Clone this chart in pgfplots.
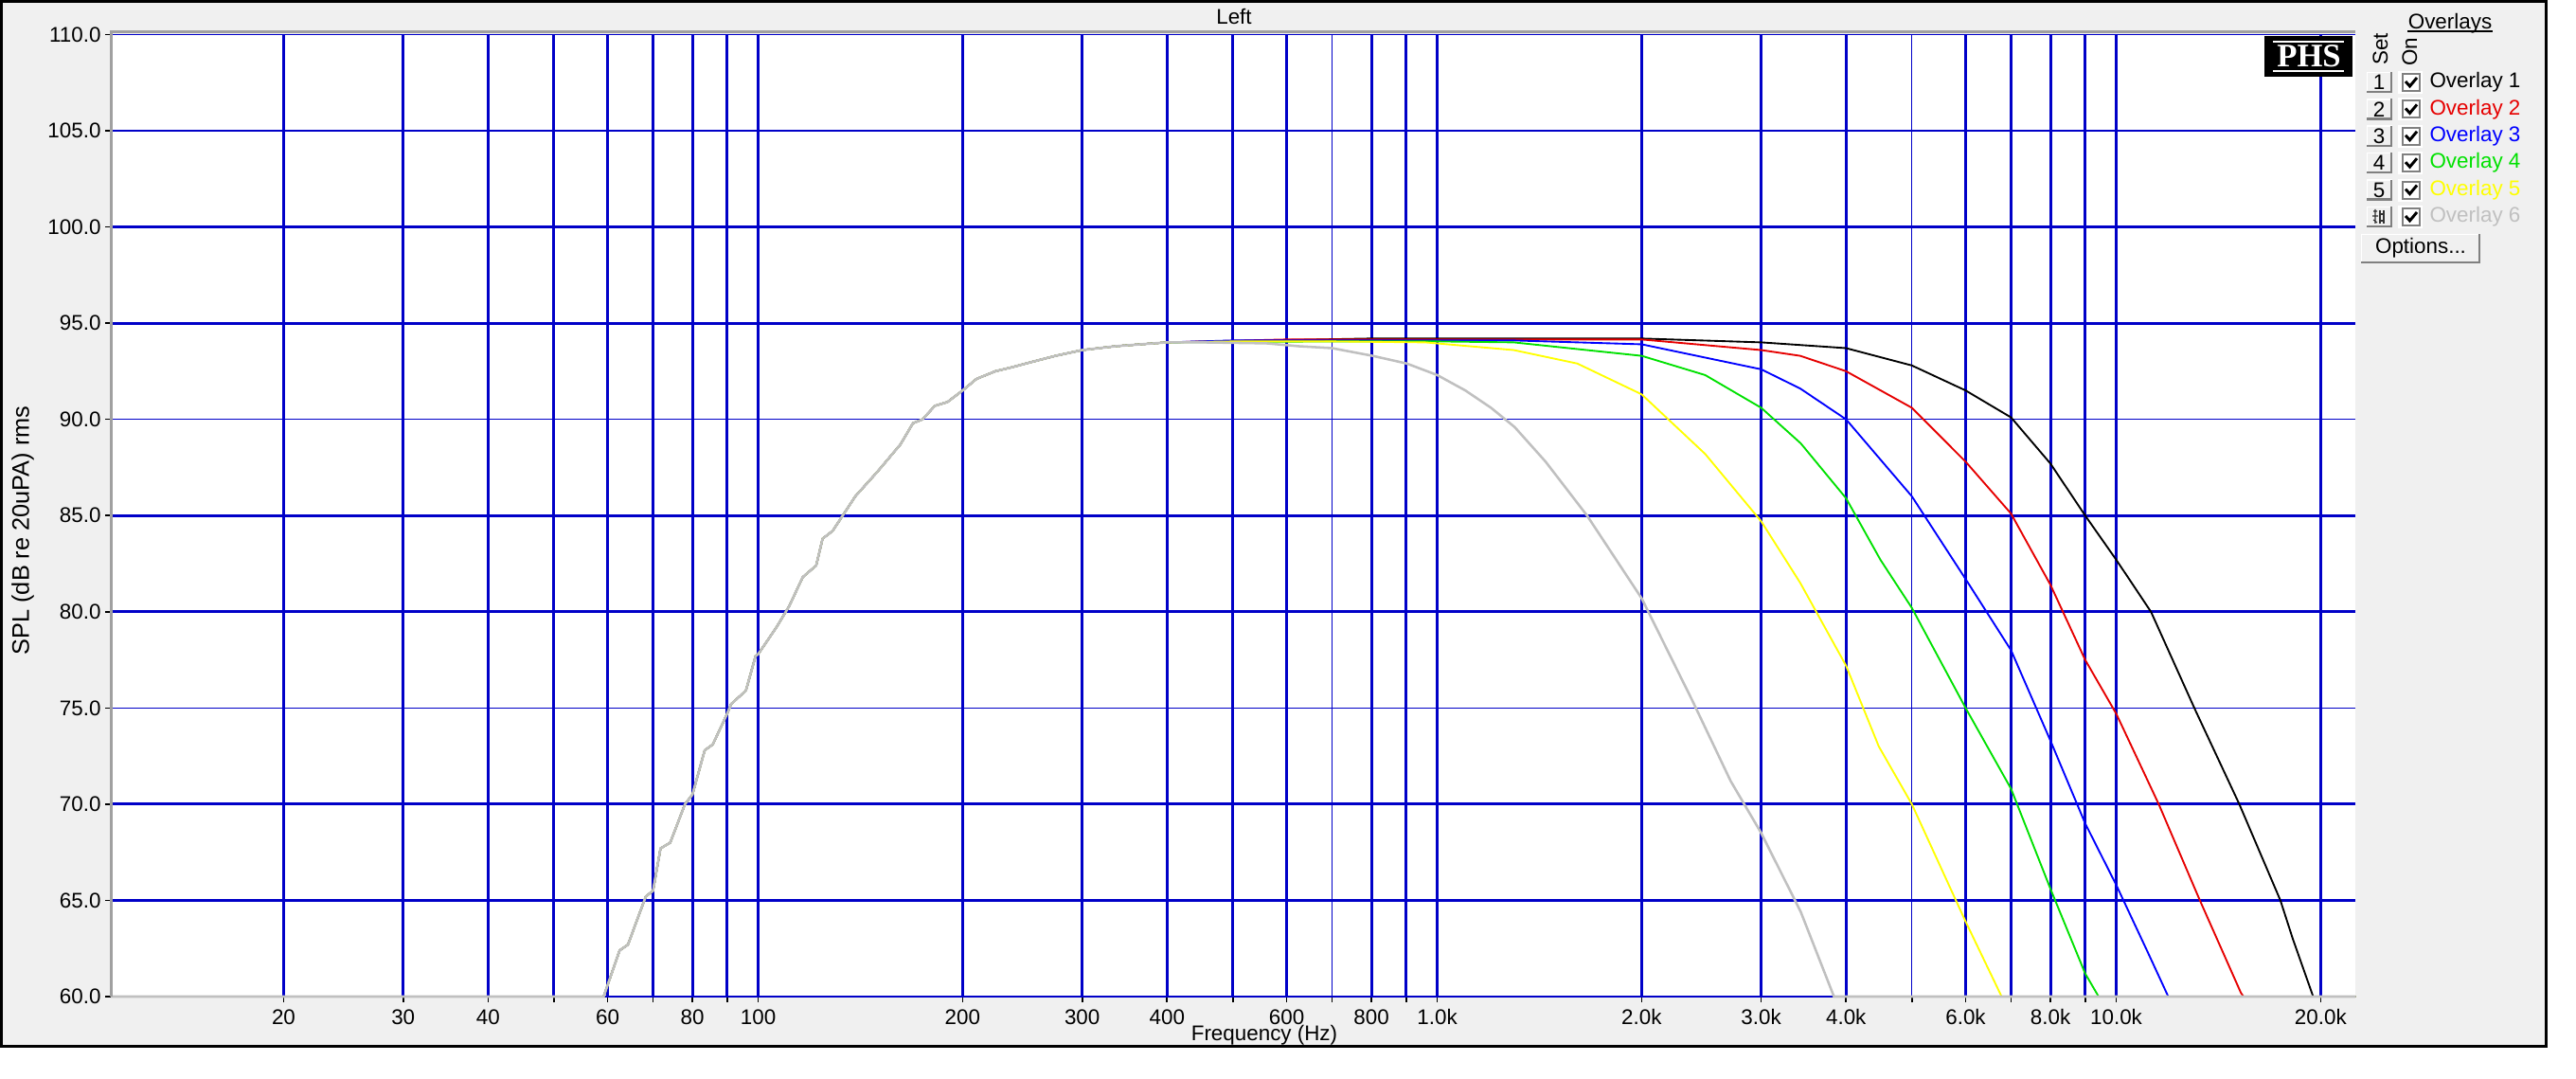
\documentclass[border=0pt]{standalone}
\usepackage{fontspec}
\setmainfont{Liberation Sans}
\newfontfamily\logofont{Liberation Serif}
\usepackage{pgfplots}
\pgfplotsset{compat=1.18}
\definecolor{gridblue}{RGB}{0,0,200}
\definecolor{winbg}{RGB}{240,240,240}
\definecolor{bordergray}{RGB}{160,160,160}
\definecolor{btndark}{RGB}{128,128,128}
\definecolor{ovgray}{RGB}{192,192,192}
\definecolor{ovgreen}{RGB}{0,225,0}
\definecolor{ovyellow}{RGB}{255,255,0}
\definecolor{ovred}{RGB}{230,0,0}
\definecolor{ovblue}{RGB}{0,0,255}
\newcommand{\txt}{\fontsize{8.4}{10}\selectfont}
\begin{document}
\begin{tikzpicture}
\path[use as bounding box] (0,0) rectangle (1020pt,426.75pt);
\begin{scope}[x=0.375pt,y=-0.375pt,yshift=426.75pt]
  \fill[white] (0,0) rectangle (2720,1138);
  \fill[winbg] (0,0) rectangle (2690,1106);
  \draw[black,line width=1.1pt] (1.5,1.5) rectangle (2688.5,1104.5);
\end{scope}
\begin{axis}[
  at={(43.875pt,32.25pt)}, anchor=south west,
  scale only axis, width=888.75pt, height=380.85pt,
  xmode=log, xmin=11.13, xmax=22500, ymin=60, ymax=110,
  clip=false,
  axis line style={draw=none, draw opacity=0},
  every outer x axis line/.append style={draw=none},
  every outer y axis line/.append style={draw=none},
  axis background/.style={fill=white},
  xminorticks=false, yminorticks=false,
  tick pos=left, tick align=outside,
  major tick length=2.25pt,
  tick style={black, line width=0.6pt},
  xtick={20,30,40,50,60,70,80,90,100,200,300,400,500,600,800,900,1000,2000,3000,4000,6000,7000,8000,9000,10000,20000},
  xticklabels={20,30,40,{},60,{},80,{},100,200,300,400,{},600,800,{},1.0k,2.0k,3.0k,4.0k,6.0k,{},8.0k,{},10.0k,20.0k},
  extra x ticks={700,5000}, extra x tick labels={},
  ytick={65,70,80,85,95,100}, yticklabels={65.0,70.0,80.0,85.0,95.0,100.0},
  extra y ticks={60,75,90,105,110}, extra y tick labels={60.0,75.0,90.0,105.0,110.0},
  grid=major,
  major grid style={draw=gridblue, line width=1.1pt},
  extra x tick style={grid=none, major grid style={draw=none}},
  extra y tick style={grid=none, major grid style={draw=none}},
  ticklabel style={font=\txt, inner sep=0pt},
  xticklabel style={anchor=north, yshift=-2.6pt},
  yticklabel style={anchor=east, xshift=-1.5pt},
]
% thin grid lines (drawn under the curves)
\addplot[gridblue, line width=0.45pt, forget plot] coordinates {(59.2,60) (3840,60)};
\addplot[gridblue, line width=0.45pt, forget plot] coordinates {(11.13,75) (22500,75)};
\addplot[gridblue, line width=0.45pt, forget plot] coordinates {(11.13,90) (22500,90)};
\addplot[gridblue, line width=0.45pt, forget plot] coordinates {(11.13,105) (22500,105)};
\addplot[gridblue, line width=0.45pt, forget plot] coordinates {(11.13,110) (22500,110)};
\addplot[gridblue, line width=0.45pt, forget plot] coordinates {(700,60) (700,110)};
\addplot[gridblue, line width=0.45pt, forget plot] coordinates {(5000,60) (5000,110)};
% Overlay 1 (black)
\addplot[black, line width=0.7pt] coordinates {
(11.13,60) (59.2,60) (60,60.6) (62.5,62.4) (64.3,62.7) (65.7,63.6) (68.3,65.2) (70,65.5) (71.8,67.7) (74.2,68.0) (78,70.0) (80,70.5) (83.4,72.8) (85.7,73.1) (90,74.7) (91.2,75.2) (95.9,75.9) (99.1,77.7) (100,77.8) (106.4,79.2) (111.1,80.3) (116.3,81.8) (121.7,82.4) (124.4,83.8) (128.7,84.2) (139,86.0) (150,87.3) (162,88.7) (169,89.8) (174.6,90.0) (182,90.7) (190,90.9) (200,91.5) (209.6,92.1) (223.5,92.5) (236,92.7) (254,93.0) (274,93.3) (300,93.6) (336,93.8) (366,93.9) (400,94.0)
(800,94.2) (2000,94.2) (3000,94.0) (4000,93.7) (5000,92.8) (6000,91.5) (7000,90.1) (8000,87.7) (9000,85.0) (10000,82.7) (11250,80.0) (13070,74.9) (15180,70.0) (17450,65.0) (18200,63.0) (19500,60) (22500,60)};
% Overlay 2 (red)
\addplot[ovred, line width=0.7pt] coordinates {
(11.13,60) (59.2,60) (60,60.6) (62.5,62.4) (64.3,62.7) (65.7,63.6) (68.3,65.2) (70,65.5) (71.8,67.7) (74.2,68.0) (78,70.0) (80,70.5) (83.4,72.8) (85.7,73.1) (90,74.7) (91.2,75.2) (95.9,75.9) (99.1,77.7) (100,77.8) (106.4,79.2) (111.1,80.3) (116.3,81.8) (121.7,82.4) (124.4,83.8) (128.7,84.2) (139,86.0) (150,87.3) (162,88.7) (169,89.8) (174.6,90.0) (182,90.7) (190,90.9) (200,91.5) (209.6,92.1) (223.5,92.5) (236,92.7) (254,93.0) (274,93.3) (300,93.6) (336,93.8) (366,93.9) (400,94.0)
(600,94.15) (2000,94.15) (3000,93.6) (3425,93.3) (4000,92.5) (5000,90.6) (6000,87.8) (7000,85.1) (8000,81.4) (9000,77.5) (10000,74.7) (11550,70.0) (13280,65.0) (15260,60.2) (15400,60) (22500,60)};
% Overlay 3 (blue)
\addplot[ovblue, line width=0.7pt] coordinates {
(11.13,60) (59.2,60) (60,60.6) (62.5,62.4) (64.3,62.7) (65.7,63.6) (68.3,65.2) (70,65.5) (71.8,67.7) (74.2,68.0) (78,70.0) (80,70.5) (83.4,72.8) (85.7,73.1) (90,74.7) (91.2,75.2) (95.9,75.9) (99.1,77.7) (100,77.8) (106.4,79.2) (111.1,80.3) (116.3,81.8) (121.7,82.4) (124.4,83.8) (128.7,84.2) (139,86.0) (150,87.3) (162,88.7) (169,89.8) (174.6,90.0) (182,90.7) (190,90.9) (200,91.5) (209.6,92.1) (223.5,92.5) (236,92.7) (254,93.0) (274,93.3) (300,93.6) (336,93.8) (366,93.9) (400,94.0)
(500,94.1) (1296,94.1) (2000,93.9) (3000,92.6) (3425,91.6) (4000,90.0) (5000,86.0) (6000,81.7) (7000,78.0) (8000,73.3) (9000,69.0) (10000,65.8) (11130,62.3) (11930,60) (22500,60)};
% Overlay 4 (green)
\addplot[ovgreen, line width=0.7pt] coordinates {
(11.13,60) (59.2,60) (60,60.6) (62.5,62.4) (64.3,62.7) (65.7,63.6) (68.3,65.2) (70,65.5) (71.8,67.7) (74.2,68.0) (78,70.0) (80,70.5) (83.4,72.8) (85.7,73.1) (90,74.7) (91.2,75.2) (95.9,75.9) (99.1,77.7) (100,77.8) (106.4,79.2) (111.1,80.3) (116.3,81.8) (121.7,82.4) (124.4,83.8) (128.7,84.2) (139,86.0) (150,87.3) (162,88.7) (169,89.8) (174.6,90.0) (182,90.7) (190,90.9) (200,91.5) (209.6,92.1) (223.5,92.5) (236,92.7) (254,93.0) (274,93.3) (300,93.6) (336,93.8) (366,93.9) (400,94.0)
(700,94.05) (1000,94.05) (1296,94.0) (2000,93.3) (2481,92.3) (3000,90.6) (3431,88.75) (4000,85.9) (4495,82.7) (5000,80.2) (6000,75.0) (7000,70.8) (8000,65.6) (9000,61.2) (9420,60) (22500,60)};
% Overlay 5 (yellow)
\addplot[ovyellow, line width=0.7pt] coordinates {
(11.13,60) (59.2,60) (60,60.6) (62.5,62.4) (64.3,62.7) (65.7,63.6) (68.3,65.2) (70,65.5) (71.8,67.7) (74.2,68.0) (78,70.0) (80,70.5) (83.4,72.8) (85.7,73.1) (90,74.7) (91.2,75.2) (95.9,75.9) (99.1,77.7) (100,77.8) (106.4,79.2) (111.1,80.3) (116.3,81.8) (121.7,82.4) (124.4,83.8) (128.7,84.2) (139,86.0) (150,87.3) (162,88.7) (169,89.8) (174.6,90.0) (182,90.7) (190,90.9) (200,91.5) (209.6,92.1) (223.5,92.5) (236,92.7) (254,93.0) (274,93.3) (300,93.6) (336,93.8) (366,93.9) (400,94.0)
(500,94.05) (700,94.05) (960,94.0) (1296,93.6) (1608,92.9) (2000,91.3) (2481,88.2) (3000,84.7) (3425,81.5) (4000,77.2) (4470,73.0) (5000,70.0) (6000,63.9) (6780,60) (22500,60)};
% Overlay 6 (gray)
\addplot[ovgray, line width=0.95pt] coordinates {
(11.13,60) (59.2,60) (60,60.6) (62.5,62.4) (64.3,62.7) (65.7,63.6) (68.3,65.2) (70,65.5) (71.8,67.7) (74.2,68.0) (78,70.0) (80,70.5) (83.4,72.8) (85.7,73.1) (90,74.7) (91.2,75.2) (95.9,75.9) (99.1,77.7) (100,77.8) (106.4,79.2) (111.1,80.3) (116.3,81.8) (121.7,82.4) (124.4,83.8) (128.7,84.2) (139,86.0) (150,87.3) (162,88.7) (169,89.8) (174.6,90.0) (182,90.7) (190,90.9) (200,91.5) (209.6,92.1) (223.5,92.5) (236,92.7) (254,93.0) (274,93.3) (300,93.6) (336,93.8) (366,93.9) (400,94.0)
(450,94.0) (560,93.95) (625,93.8) (700,93.7) (803,93.3) (902,92.9) (1000,92.3) (1100,91.5) (1200,90.6) (1300,89.6) (1444,87.8) (1662,85.0) (2000,80.7) (2374,75.4) (2705,71.2) (3000,68.5) (3431,64.4) (3840,60) (22500,60)};
\end{axis}
\begin{scope}[x=0.375pt,y=-0.375pt,yshift=426.75pt]
  % plot inset border
  \fill[bordergray] (115.5,32) rectangle (2487,35.5);
  \fill[bordergray] (115.5,32) rectangle (119,1052);
  % titles
  \node[font=\txt] at (1303,18) {Left};
  \node[font=\txt] at (1335,1093) {Frequency (Hz)};
  \node[font=\fontsize{9.5}{11}\selectfont, rotate=90, inner sep=0pt] at (24,560) {SPL (dB re 20uPA) rms};
  % logo
  \fill[black] (2391,38) rectangle (2484,81);
  \draw[white, line width=0.7pt] (2400,44) -- (2475,44);
  \draw[white, line width=0.7pt] (2400,75) -- (2475,75);
  \node[white, font=\logofont\bfseries\fontsize{13}{13}\selectfont, inner sep=0pt] at (2438,59.5) {PHS};
  % panel
  \node[font=\txt, inner sep=0pt] (ov) at (2587,25) {Overlays};
  \draw[black, line width=0.4pt] (2542,33) -- (2632,33);
  \node[font=\txt, rotate=90, inner sep=0pt] at (2513.5,52) {Set};
  \node[font=\txt, rotate=90, inner sep=0pt] at (2544.5,54.5) {On};
  \foreach \i/\c in {1/black,2/ovred,3/ovblue,4/ovgreen,5/ovyellow,6/ovgray} {
    \pgfmathsetmacro{\yc}{87+28.4*(\i-1)}
    % button
    \fill[winbg] (2499,\yc-11) rectangle (2526,\yc+11);
    \draw[white, line width=0.6pt] (2499.5,\yc+10.5) -- (2499.5,\yc-10.5) -- (2525.5,\yc-10.5);
    \draw[btndark, line width=0.9pt] (2499,\yc+10) -- (2525,\yc+10) -- (2525,\yc-11);
    % checkbox
    \fill[white] (2532,\yc-12) rectangle (2558,\yc+12);
    \draw[btndark, line width=0.75pt] (2537,\yc-9) rectangle (2555,\yc+9);
    \draw[black, line width=1.1pt] (2540,\yc-1) -- (2544.5,\yc+4) -- (2552,\yc-5);
    % label
    \node[font=\txt, text=\c, anchor=west, inner sep=0pt] at (2565,\yc) {Overlay \i};
  }
  \foreach \i in {1,2,3,4,5} {
    \pgfmathsetmacro{\yc}{87+28.4*(\i-1)}
    \node[font=\txt, inner sep=0pt] at (2512,\yc) {\i};
  }
  % icon on button 6
  \begin{scope}[shift={(2512,229)}]
    \draw[black!80, line width=0.4pt] (-6,-6) -- (-2,-6) (-4,-8) -- (-4,7) (-7,-1) -- (-1,-1) (-6,3) -- (-2,6);
    \draw[black!80, line width=0.4pt] (1,-7) -- (1,7) (1,-3) -- (6,-3) (5,-7) -- (5,7) (1,4) -- (6,4);
  \end{scope}
  % options button
  \fill[winbg] (2493,247) rectangle (2619,278);
  \draw[white, line width=0.6pt] (2493.5,277.5) -- (2493.5,247.5) -- (2618.5,247.5);
  \draw[btndark, line width=1pt] (2493,277) -- (2618,277) -- (2618,247);
  \node[font=\txt] at (2556,262) {Options...};
\end{scope}
\end{tikzpicture}
\end{document}
